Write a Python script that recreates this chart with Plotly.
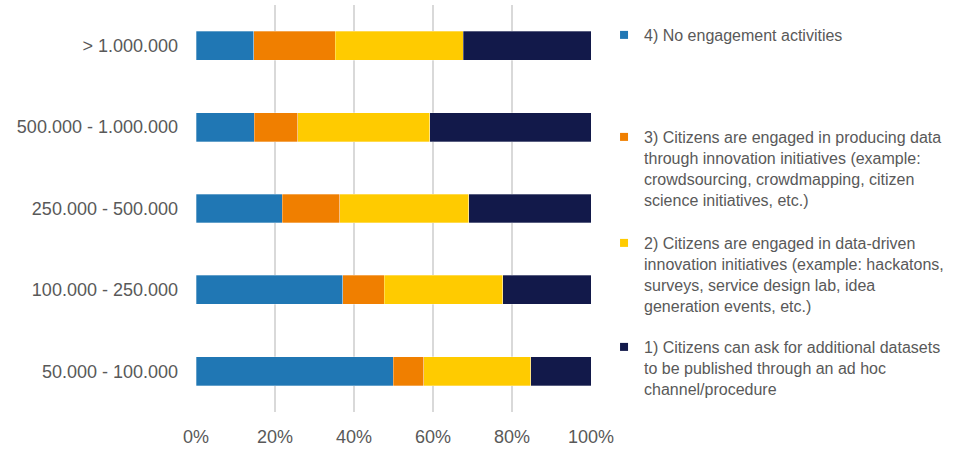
import plotly.graph_objects as go

categories = ["50.000 - 100.000", "100.000 - 250.000", "250.000 - 500.000",
              "500.000 - 1.000.000", "> 1.000.000"]

series_names = [
    "4) No engagement activities",
    "3) Citizens are engaged in producing data<br>through innovation initiatives (example:<br>crowdsourcing, crowdmapping, citizen<br>science initiatives, etc.)",
    "2) Citizens are engaged in data-driven<br>innovation initiatives (example: hackatons,<br>surveys, service design lab, idea<br>generation events, etc.)",
    "1) Citizens can ask for additional datasets<br>to be published through an ad hoc<br>channel/procedure",
]

no_engagement = [0.499, 0.372, 0.218, 0.147, 0.146]
producing_data = [0.077, 0.105, 0.146, 0.111, 0.206]
data_driven = [0.271, 0.300, 0.327, 0.334, 0.325]
ask_datasets = [0.153, 0.223, 0.309, 0.408, 0.323]

values = [no_engagement, producing_data, data_driven, ask_datasets]
colors = ["#2077B4", "#F07F00", "#FFCB00", "#12194A"]

fig = go.Figure()
for vals, col in zip(values, colors):
    fig.add_trace(go.Bar(
        y=categories, x=vals, orientation="h",
        marker=dict(color=col, line=dict(color="rgba(255,255,255,0.5)", width=0.6)),
        showlegend=False, hoverinfo="x+y",
    ))

legend_ids = ["legend", "legend2", "legend3", "legend4"]
for name, col, lid in zip(series_names, colors, legend_ids):
    fig.add_trace(go.Scatter(
        x=[None], y=[None], mode="markers", name=name, legend=lid,
        marker=dict(symbol="square", size=8, color=col),
    ))

font = dict(family="Liberation Sans, Arial, sans-serif", color="#595959")
legend_common = dict(
    x=1.033, xanchor="left", yanchor="top", valign="top",
    font=dict(family="Liberation Sans, Arial, sans-serif", size=16, color="#595959"),
    bgcolor="rgba(0,0,0,0)", itemwidth=30, tracegroupgap=0,
)
# pixel top of each legend block (plot area spans y=5..412)
legend_pixel_tops = [18, 120, 226, 330]
plot_top, plot_h = 5, 407
layouts = {}
for lid, ptop in zip(legend_ids, legend_pixel_tops):
    layouts[lid] = dict(legend_common, y=1 - (ptop - plot_top) / plot_h)

fig.update_layout(
    width=961, height=450,
    margin=dict(l=196, r=370, t=5, b=38, autoexpand=False),
    barmode="stack", bargap=0.644,
    plot_bgcolor="white", paper_bgcolor="white",
    font=font,
    xaxis=dict(range=[0, 1], tickformat=".0%", dtick=0.2, tick0=0,
               showgrid=True, gridcolor="#D9D9D9", gridwidth=1.5,
               zeroline=False, showline=False, ticks="",
               tickfont=dict(size=18, color="#595959"), ticklabelstandoff=12),
    yaxis=dict(showgrid=False, zeroline=False, showline=False, ticks="",
               tickfont=dict(size=18, color="#595959"), ticklabelstandoff=17),
    **layouts,
)

fig.write_html("out.html", config={"displayModeBar": False},
               post_script="document.body.style.margin='0';document.body.style.padding='0';")
